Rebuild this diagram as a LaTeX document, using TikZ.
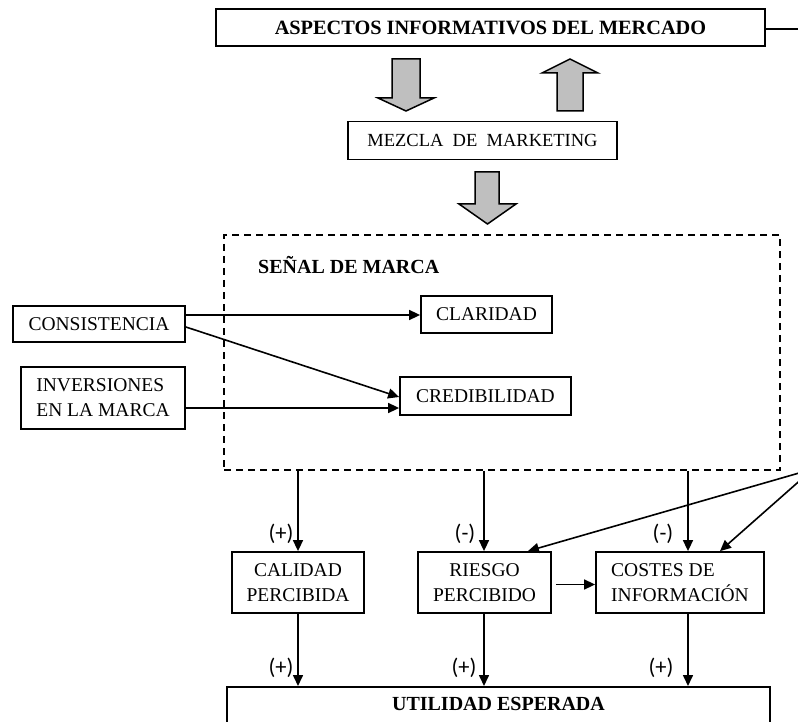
\documentclass[tikz,border=0pt]{standalone}
\usepackage{fontspec}
\setmainfont{Liberation Serif}
\newfontfamily\signfont{Carlito}
\usetikzlibrary{arrows.meta,calc}

\tikzset{
  txt/.style={font=\fontsize{19.5}{25}\selectfont},
  boldtxt/.style={font=\fontsize{20}{25}\selectfont\bfseries},
  box/.style={draw, line width=1.8pt, inner sep=0pt, align=center, txt},
  arr/.style={line width=1.6pt, -{Triangle[length=11pt,width=10pt]}},
  plain/.style={line width=1.6pt},
  sign/.style={font=\signfont\fontsize{22.5}{24}\selectfont, inner sep=0pt},
  blockarrow/.style={draw, line width=1.5pt, fill=black!25, line join=miter},
  dashedbox/.style={draw, line width=1.6pt, dash pattern=on 7pt off 5pt, inner sep=0pt}
}

\begin{document}
\begin{tikzpicture}[x=1pt, y=-1pt]
\path[use as bounding box] (0,0) rectangle (798,722);
\clip (0,0) rectangle (798,722);

% market level
\node[box, boldtxt, font=\fontsize{20.3}{25}\selectfont\bfseries,
      minimum width=549pt, minimum height=37pt] (top) at (490.5,27.5)
  {ASPECTOS INFORMATIVOS DEL MERCADO};
\node[box, minimum width=269pt, minimum height=38pt,
      font=\fontsize{18.5}{25}\selectfont] (mezcla) at (482.5,140.5)
  {MEZCLA\ \ DE\ \ MARKETING};

% block arrows between the market level and the marketing mix
\draw[blockarrow] (392,59) -- (420,59) -- (420,98) -- (434,98) -- (406,111)
  -- (378,98) -- (392,98) -- cycle;
\draw[blockarrow] (557,111) -- (583,111) -- (583,73) -- (598,73) -- (570,59)
  -- (542,73) -- (557,73) -- cycle;
\draw[blockarrow] (475,172) -- (499,172) -- (499,204) -- (516,204) -- (487.5,224)
  -- (459,204) -- (475,204) -- cycle;

% brand signal
\node[dashedbox, minimum width=556pt, minimum height=235pt] (signal) at (502,352.5) {};
\node[boldtxt, anchor=west, inner sep=0pt] (signaltitle) at (258,265) {SEÑAL DE MARCA};

\node[box, minimum width=131pt, minimum height=37pt] (claridad) at (486.5,314.5) {CLARIDAD};
\node[box, minimum width=171pt, minimum height=38pt] (cred) at (485.5,396) {CREDIBILIDAD};

\node[box, minimum width=172pt, minimum height=36pt] (consist) at (99,324) {CONSISTENCIA};
\node[box, align=left, minimum width=164pt, minimum height=62pt] (invers) at (103,398)
  {INVERSIONES\\EN LA MARCA};

\coordinate (clarin) at ($(claridad.west)+(0,0.5)$);
\draw[arr] (consist.east |- clarin) -- (clarin);
\draw[arr] ($(consist.east)+(0,3)$) -- ($(cred.west)+(0,1)$);
\coordinate (credin) at ($(cred.west)+(0,12)$);
\draw[arr] (invers.east |- credin) -- (credin);

% consumer perceptions
\node[box, minimum width=132pt, minimum height=61pt] (calidad) at (298,582.5)
  {CALIDAD\\PERCIBIDA};
\node[box, minimum width=133pt, minimum height=61pt] (riesgo) at (484.5,582.5)
  {RIESGO\\PERCIBIDO};
\node[box, align=left, minimum width=168pt, minimum height=61pt] (costes) at (680,582.5)
  {COSTES DE\\INFORMACIÓN};

\node[box, boldtxt, anchor=north, minimum width=543pt, text height=16pt, text depth=50pt,
      inner ysep=8pt] (utilidad) at (498.5,686) {UTILIDAD ESPERADA};

\coordinate (calin) at (298,0);
\coordinate (riein) at (484,0);
\coordinate (cosin) at (688,0);

\draw[arr] (signal.south -| calin) -- (calidad.north -| calin);
\draw[arr] (signal.south -| riein) -- (riesgo.north -| riein);
\draw[arr] (signal.south -| cosin) -- (costes.north -| cosin);

\draw[arr] ($(riesgo.east)+(4,2)$) -- ($(costes.west)+(0,2)$);

\draw[arr] (calidad.south -| calin) -- (utilidad.north -| calin);
\draw[arr] (riesgo.south -| riein) -- (utilidad.north -| riein);
\draw[arr] (costes.south -| cosin) -- (utilidad.north -| cosin);

% signs of the effects
\node[sign] (s1) at (281,534) {(+)};
\node[sign] (s2) at (465,534) {(-)};
\node[sign] (s3) at (663,534) {(-)};
\node[sign] (s4) at (281,668) {(+)};
\node[sign] (s5) at (464,668) {(+)};
\node[sign] (s6) at (661,668) {(+)};

% feedback from the market level
\coordinate (fbtop) at (813,29);
\coordinate (fb) at (813,469);
\draw[plain] (top.east |- fbtop) -- (fbtop);
\draw[arr] (fb) -- ($(riesgo.north east)+(-24,0)$);
\draw[arr] (fb) -- ($(costes.north)+(40,0)$);
\end{tikzpicture}
\end{document}
